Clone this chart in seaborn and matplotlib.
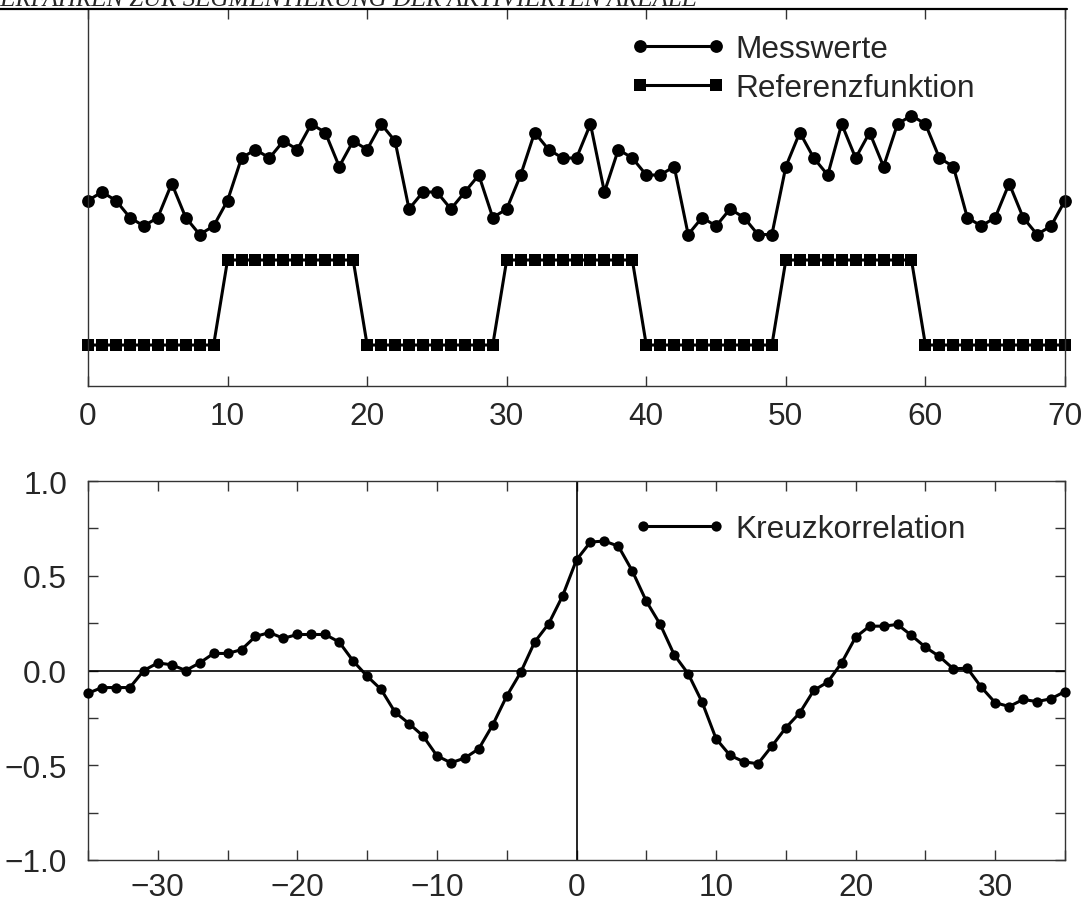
import matplotlib
matplotlib.use("Agg")
import matplotlib.pyplot as plt
from matplotlib.lines import Line2D
import numpy as np
import pandas as pd
import seaborn as sns

# ---- data -------------------------------------------------------------
scan = list(range(0, 71))
messwerte = [1.7, 1.8, 1.7, 1.5, 1.4, 1.5, 1.9, 1.5, 1.3, 1.4,
             1.7, 2.2, 2.3, 2.2, 2.4, 2.3, 2.6, 2.5, 2.1, 2.4,
             2.3, 2.6, 2.4, 1.6, 1.8, 1.8, 1.6, 1.8, 2.0, 1.5,
             1.6, 2.0, 2.5, 2.3, 2.2, 2.2, 2.6, 1.8, 2.3, 2.2,
             2.0, 2.0, 2.1, 1.3, 1.5, 1.4, 1.6, 1.5, 1.3, 1.3,
             2.1, 2.5, 2.2, 2.0, 2.6, 2.2, 2.5, 2.1, 2.6, 2.7,
             2.6, 2.2, 2.1, 1.5, 1.4, 1.5, 1.9, 1.5, 1.3, 1.4,
             1.7]
referenz = [0] * 10 + [1] * 10 + [0] * 10 + [1] * 10 + [0] * 10 + [1] * 10 + [0] * 11

lag = list(range(-35, 36))
kreuzkorrelation = [-0.12, -0.09, -0.09, -0.09, 0.00, 0.04, 0.03, 0.00, 0.04, 0.09,
                    0.09, 0.11, 0.18, 0.20, 0.17, 0.19, 0.19, 0.19, 0.15, 0.05,
                    -0.03, -0.10, -0.22, -0.28, -0.345, -0.45, -0.487, -0.462, -0.413, -0.287,
                    -0.135, -0.01, 0.15, 0.246, 0.393, 0.584, 0.678, 0.683, 0.656, 0.525,
                    0.366, 0.243, 0.083, -0.017, -0.167, -0.36, -0.448, -0.482, -0.492, -0.399,
                    -0.302, -0.223, -0.105, -0.061, 0.041, 0.176, 0.234, 0.234, 0.243, 0.185,
                    0.123, 0.074, 0.009, 0.012, -0.088, -0.17, -0.19, -0.153, -0.164, -0.149,
                    -0.111]

top_xticks = [0, 10, 20, 30, 40, 50, 60, 70]
bot_xticks_major = [-30, -20, -10, 0, 10, 20, 30]
bot_xticks_minor = [-35, -25, -15, -5, 5, 15, 25, 35]
bot_yticks_major = [-1.0, -0.5, 0.0, 0.5, 1.0]
bot_yticks_minor = [-0.75, -0.25, 0.25, 0.75]

header = "VERFAHREN ZUR SEGMENTIERUNG DER AKTIVIERTEN AREALE"

# ---- style ------------------------------------------------------------
sns.set_theme(style="ticks")
plt.rcParams["font.family"] = ["Liberation Sans", "DejaVu Sans"]
plt.rcParams["axes.unicode_minus"] = True

W, H = 1087, 903
fig = plt.figure(figsize=(W / 100, H / 100), dpi=100)
fig.patch.set_facecolor("white")


def px_axes(left, top, right, bottom):
    return fig.add_axes([left / W, 1 - bottom / H, (right - left) / W, (bottom - top) / H])


def minus(s):
    return s.replace("-", "\u2212")


FS = 22.8
LW = 2.2
spine_col = "#333333"

# ---- upper panel: measurement and reference --------------------------
ax1 = px_axes(88, 10, 1065, 387)
df_top = pd.DataFrame({"scan": scan, "mess": messwerte, "ref": referenz})
sns.lineplot(data=df_top, x="scan", y="mess", ax=ax1, color="black", lw=LW,
             marker="o", markersize=9.2, markeredgewidth=0, label="Messwerte",
             clip_on=False)
sns.lineplot(data=df_top, x="scan", y="ref", ax=ax1, color="black", lw=LW,
             marker="s", markersize=9, markeredgewidth=0, label="Referenzfunktion",
             clip_on=False)
ax1.set_xlim(0, 70)
ax1.set_ylim(-0.482, 3.953)
ax1.set_xlabel("")
ax1.set_ylabel("")
ax1.set_yticks([])
ax1.set_xticks(top_xticks)
ax1.set_xticklabels([str(t) for t in top_xticks])
ax1.tick_params(axis="x", direction="in", length=7, width=1, color=spine_col,
                top=True, bottom=True, labelsize=FS, pad=10.5)
for side in ["left", "right", "bottom"]:
    ax1.spines[side].set_color(spine_col)
    ax1.spines[side].set_linewidth(1.0)
ax1.spines["top"].set_visible(False)

leg1 = ax1.legend(loc="upper left", bbox_to_anchor=(0.5556, 0.934), frameon=False,
                  fontsize=FS, numpoints=2, handlelength=3.0, handletextpad=0.3,
                  labelspacing=0.29, borderpad=0, borderaxespad=0)

# ---- lower panel: cross correlation ----------------------------------
ax2 = px_axes(88, 482, 1065, 861)
ax2.axhline(0, color="black", lw=1.2, zorder=1)
ax2.axvline(0, color="black", lw=1.2, zorder=1)
df_bot = pd.DataFrame({"lag": lag, "kk": kreuzkorrelation})
sns.lineplot(data=df_bot, x="lag", y="kk", ax=ax2, color="black", lw=LW,
             marker="o", markersize=7.4, markeredgewidth=0, label="Kreuzkorrelation",
             zorder=3, clip_on=False)
ax2.set_xlim(-35, 35)
ax2.set_ylim(-1, 1)
ax2.set_xlabel("")
ax2.set_ylabel("")
ax2.set_xticks(bot_xticks_major)
ax2.set_xticklabels([minus(str(t)) for t in bot_xticks_major])
ax2.set_xticks(bot_xticks_minor, minor=True)
ax2.set_yticks(bot_yticks_major)
ax2.set_yticklabels([minus(f"{t:.1f}") for t in bot_yticks_major])
ax2.set_yticks(bot_yticks_minor, minor=True)
ax2.tick_params(axis="both", which="both", direction="in", length=7, width=1,
                color=spine_col, top=True, bottom=True, left=True, right=True)
ax2.tick_params(axis="x", which="major", labelsize=FS, pad=8.5)
ax2.tick_params(axis="y", which="major", labelsize=FS, pad=15)
for side in ["left", "right", "bottom", "top"]:
    ax2.spines[side].set_color(spine_col)
    ax2.spines[side].set_linewidth(1.0)

leg2 = ax2.legend(loc="upper left", bbox_to_anchor=(0.5586, 0.912), frameon=False,
                  fontsize=FS, numpoints=2, handlelength=2.9, handletextpad=0.3,
                  borderpad=0, borderaxespad=0)

# ---- running page header ---------------------------------------------
fig.text(697 / W, 1 - 6 / H, header, ha="right", va="baseline",
         family=["Liberation Serif", "DejaVu Serif"], style="italic", fontsize=18)
fig.add_artist(Line2D([0, 1067 / W], [1 - 10 / H, 1 - 10 / H],
                      transform=fig.transFigure, color="black", lw=1.6))

fig.savefig("out.png", dpi=100, facecolor="white")
